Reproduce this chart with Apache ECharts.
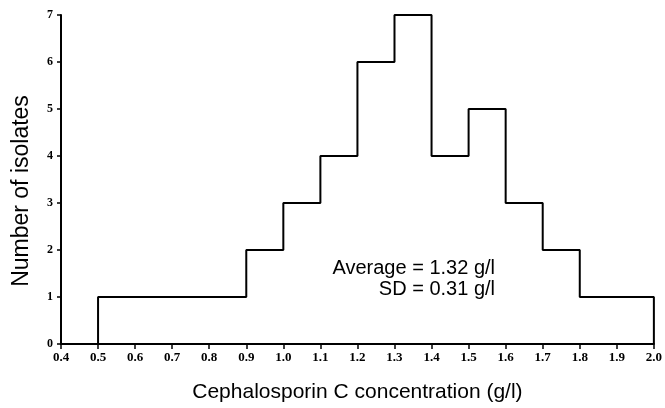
<!DOCTYPE html>
<html>
<head>
<meta charset="utf-8">
<script src="https://cdn.jsdelivr.net/npm/echarts@6/dist/echarts.min.js"></script>
<style>
  html, body { margin: 0; padding: 0; background: #fff; }
  #chart { width: 665px; height: 408px; }
</style>
</head>
<body>
<div id="chart"></div>
<script>
// bin edges (g/l) and isolate counts per bin
var binEdges = [0.5, 0.9, 1.0, 1.1, 1.2, 1.3, 1.4, 1.5, 1.6, 1.7, 1.8, 2.0];
var binCounts = [1, 2, 3, 4, 6, 7, 4, 5, 3, 2, 1];
var xTicks = [0.4, 0.5, 0.6, 0.7, 0.8, 0.9, 1.0, 1.1, 1.2, 1.3, 1.4, 1.5, 1.6, 1.7, 1.8, 1.9, 2.0];
var yTicks = [0, 1, 2, 3, 4, 5, 6, 7];
var statLines = ['Average = 1.32 g/l', 'SD = 0.31 g/l'];

// outline of the histogram: up at first edge, across each bin, down at last edge
var outline = [[binEdges[0], 0]];
for (var i = 0; i < binCounts.length; i++) {
  outline.push([binEdges[i], binCounts[i]]);
  outline.push([binEdges[i + 1], binCounts[i]]);
}
outline.push([binEdges[binEdges.length - 1], 0]);

var chart = echarts.init(document.getElementById('chart'));
chart.setOption({
  animation: false,
  backgroundColor: '#fff',
  grid: { left: 61, right: 9, top: 15, bottom: 62 },
  xAxis: {
    type: 'value',
    min: xTicks[0],
    max: xTicks[xTicks.length - 1],
    interval: 0.1,
    name: 'Cephalosporin C concentration (g/l)',
    nameLocation: 'middle',
    nameGap: 38,
    nameTextStyle: { fontFamily: 'Liberation Sans', fontSize: 21, color: '#000' },
    axisLine: { lineStyle: { color: '#000', width: 2 } },
    axisTick: { length: 5, lineStyle: { color: '#000', width: 1.5 } },
    splitLine: { show: false },
    axisLabel: {
      margin: 7,
      fontFamily: 'Liberation Serif',
      fontWeight: 'bold',
      fontSize: 13,
      color: '#000',
      formatter: function (v) { return v.toFixed(1); }
    }
  },
  yAxis: {
    type: 'value',
    min: yTicks[0],
    max: yTicks[yTicks.length - 1],
    interval: 1,
    axisLine: { show: true, lineStyle: { color: '#000', width: 2 } },
    axisTick: { show: true, length: 4, lineStyle: { color: '#000', width: 1.5 } },
    splitLine: { show: false },
    axisLabel: {
      margin: 8,
      fontFamily: 'Liberation Serif',
      fontWeight: 'bold',
      fontSize: 12,
      color: '#000'
    }
  },
  series: [{
    type: 'line',
    data: outline,
    showSymbol: false,
    lineStyle: { color: '#000', width: 2 },
    z: 3
  }],
  graphic: [{
    type: 'text',
    x: 22,
    y: 191,
    rotation: Math.PI / 2,
    style: {
      text: 'Number of isolates',
      align: 'center',
      verticalAlign: 'middle',
      fontFamily: 'Liberation Sans',
      fontSize: 23,
      fill: '#000'
    }
  }, {
    type: 'text',
    x: 495,
    y: 268,
    style: {
      text: statLines[0],
      align: 'right',
      verticalAlign: 'middle',
      fontFamily: 'Liberation Sans',
      fontSize: 20,
      fill: '#000'
    }
  }, {
    type: 'text',
    x: 495,
    y: 289,
    style: {
      text: statLines[1],
      align: 'right',
      verticalAlign: 'middle',
      fontFamily: 'Liberation Sans',
      fontSize: 20,
      fill: '#000'
    }
  }]
});
</script>
</body>
</html>
